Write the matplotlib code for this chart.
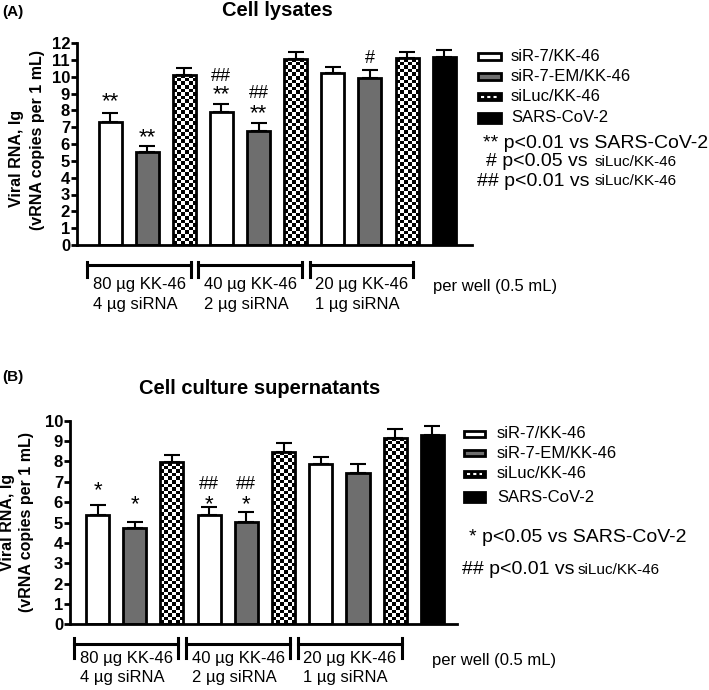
import numpy as np
import matplotlib
matplotlib.use("Agg")
import matplotlib.pyplot as plt
import matplotlib.transforms as mtransforms
from matplotlib.patches import Rectangle
from matplotlib.lines import Line2D

plt.rcParams['font.family'] = ['Liberation Sans', 'DejaVu Sans']

# data (lg copies per mL)
series = ["siR-7/KK-46", "siR-7-EM/KK-46", "siLuc/KK-46", "SARS-CoV-2"]
bar_kind = [0, 1, 2, 0, 1, 2, 0, 1, 2, 3]

lys_vals = [7.3, 5.55, 10.1, 7.9, 6.75, 11.05, 10.2, 9.95, 11.1, 11.15]
lys_err = [0.55, 0.35, 0.4, 0.5, 0.5, 0.4, 0.4, 0.45, 0.35, 0.45]
lys_marks = [(0, 8.5, "**"), (1, 6.4, "**"), (3, 8.9, "**"), (3, 10.0, "##"),
             (4, 7.8, "**"), (4, 9.0, "##"), (7, 11.1, "#")]

sup_vals = [5.35, 4.75, 7.95, 5.35, 5.05, 8.45, 7.85, 7.45, 9.15, 9.3]
sup_err = [0.5, 0.3, 0.38, 0.4, 0.48, 0.45, 0.38, 0.4, 0.43, 0.45]
sup_marks = [(0, 6.55, "*"), (1, 5.9, "*"), (3, 5.9, "*"), (3, 6.85, "##"),
             (4, 5.9, "*"), (4, 6.85, "##")]

dose_line1 = ["80 µg KK-46", "40 µg KK-46", "20 µg KK-46"]
dose_line2 = ["4 µg siRNA", "2 µg siRNA", "1 µg siRNA"]

W, H = 709, 690
fig = plt.figure(figsize=(W / 100, H / 100), dpi=100)


def fx(px):
    return px / W


def fy(py):
    return 1 - py / H


face = {0: "white", 1: "#6e6e6e", 2: "white", 3: "black"}


def checker(ax, bar):
    x, w, h = bar.get_x(), bar.get_width(), bar.get_height()
    p0 = ax.transData.transform((x, 0))
    p1 = ax.transData.transform((x + w, h))
    nx = max(1, int(round((p1[0] - p0[0]) / 3.6)))
    ny = max(1, int(round((p1[1] - p0[1]) / 3.6)))
    grid = np.add.outer(np.arange(ny), np.arange(nx)) % 2
    im = ax.imshow(grid, cmap="gray", extent=(x, x + w, 0, h), aspect="auto",
                   interpolation="nearest", zorder=2.5)
    im.set_clip_path(bar)


def panel(box, vals, errs, ymax, xlim, marks, brk_y, cap_y, txt_y):
    left, right, top, bottom = box
    ax = fig.add_axes([fx(left), fy(bottom), (right - left) / W, (bottom - top) / H])
    ax.set_xlim(*xlim)
    ax.set_ylim(0, ymax)
    x = np.arange(len(vals))
    colors = [face[k] for k in bar_kind]
    bars = ax.bar(x, vals, width=0.62, color=colors, edgecolor="none", zorder=2)
    for b, k in zip(bars, bar_kind):
        if k == 2:
            checker(ax, b)
    ax.bar(x, vals, width=0.62, color="none", edgecolor="black", linewidth=2, zorder=3)
    ax.errorbar(x, vals, yerr=[np.zeros(len(errs)), errs], fmt="none", ecolor="black",
                elinewidth=1.5, capsize=6, capthick=1.5, zorder=1.5)
    ax.set_xlim(*xlim)
    ax.set_ylim(0, ymax)
    for i, yv, t in marks:
        ax.text(i, yv, t, ha="center", va="center", fontsize=16 if "*" in t else 13)
    ax.spines[["top", "right"]].set_visible(False)
    ax.spines[["left", "bottom"]].set_linewidth(2)
    ax.set_xticks([])
    ax.set_yticks(range(0, ymax + 1))
    ax.tick_params(axis="y", length=4, width=2, pad=1, labelsize=12)
    for lab in ax.get_yticklabels():
        lab.set_fontweight("bold")
    tr = mtransforms.blended_transform_factory(ax.transData, ax.transAxes)
    for g in range(3):
        x0, x1 = 3 * g - 0.62, 3 * g + 2.17
        ax.add_line(Line2D([x0, x1], [brk_y, brk_y], color="black", lw=2.2,
                           transform=tr, clip_on=False))
        for xe in (x0, x1):
            ax.add_line(Line2D([xe, xe], cap_y, color="black", lw=2.2,
                               transform=tr, clip_on=False))
        ax.text(x0 + 0.15, txt_y[0], dose_line1[g], transform=tr, ha="left",
                va="center", fontsize=12)
        ax.text(x0 + 0.15, txt_y[1], dose_line2[g], transform=tr, ha="left",
                va="center", fontsize=12)
    return ax


panel((77, 472, 43, 245), lys_vals, lys_err, 12, (-0.89, 9.75), lys_marks,
      -0.099, [-0.084, -0.158], (-0.198, -0.297))
panel((70, 457, 420.7, 624.4), sup_vals, sup_err, 10, (-0.74, 9.66), sup_marks,
      -0.096, [-0.065, -0.163], (-0.165, -0.263))

# titles, panel letters, y labels
fig.text(fx(277), fy(11), "Cell lysates", ha="center", va="center", fontsize=14.5, fontweight="bold")
fig.text(fx(260), fy(388), "Cell culture supernatants", ha="center", va="center",
         fontsize=14.5, fontweight="bold")
fig.text(fx(2), fy(12), "(A)", ha="left", va="center", fontsize=11, fontweight="bold")
fig.text(fx(2), fy(377), "(B)", ha="left", va="center", fontsize=11, fontweight="bold")
for (x1, y1, x2, y2) in [(17, 158, 38, 140), (8, 522, 27, 522)]:
    fig.text(fx(x1), fy(y1), "Viral RNA, lg", rotation=90, ha="center", va="center",
             fontsize=11.5, fontweight="bold")
    fig.text(fx(x2), fy(y2), "(vRNA copies per 1 mL)", rotation=90, ha="center",
             va="center", fontsize=11.5, fontweight="bold")

fig.text(fx(433), fy(286), "per well (0.5 mL)", ha="left", va="center", fontsize=12)
fig.text(fx(432), fy(660), "per well (0.5 mL)", ha="left", va="center", fontsize=12)


def legend(x0, x1, rows, tx):
    for k, (yc, name) in enumerate(zip(rows, series)):
        h = 10 if k == 3 else 6.5
        fc = face[k] if k != 2 else "black"
        fig.add_artist(Rectangle((fx(x0), fy(yc + h / 2)), (x1 - x0) / W, h / H,
                                 transform=fig.transFigure, facecolor=fc,
                                 edgecolor="black", linewidth=2))
        if k == 2:
            fig.add_artist(Line2D([fx(x0 + 3), fx(x1 - 3)], [fy(yc), fy(yc)],
                                  transform=fig.transFigure, color="white",
                                  lw=1.5, dashes=(1.5, 1.5)))
        fig.text(fx(tx), fy(yc), name, ha="left", va="center", fontsize=12)


legend(478, 501, [56.7, 76.5, 96.7, 118], 511)
legend(464, 485, [434, 453, 474, 497], 497)

# significance key
fig.text(fx(483), fy(143), "** p<0.01 vs SARS-CoV-2", ha="left", va="center", fontsize=14)
fig.text(fx(486), fy(162), "# p<0.05 vs", ha="left", va="center", fontsize=14)
fig.text(fx(595), fy(162), "siLuc/KK-46", ha="left", va="center", fontsize=11)
fig.text(fx(477), fy(181), "## p<0.01 vs", ha="left", va="center", fontsize=14)
fig.text(fx(595), fy(181), "siLuc/KK-46", ha="left", va="center", fontsize=11)

fig.text(fx(469), fy(538), "* p<0.05 vs SARS-CoV-2", ha="left", va="center", fontsize=14)
fig.text(fx(462), fy(570), "## p<0.01 vs", ha="left", va="center", fontsize=14)
fig.text(fx(578), fy(570), "siLuc/KK-46", ha="left", va="center", fontsize=11)

fig.savefig("out.png", dpi=100)
